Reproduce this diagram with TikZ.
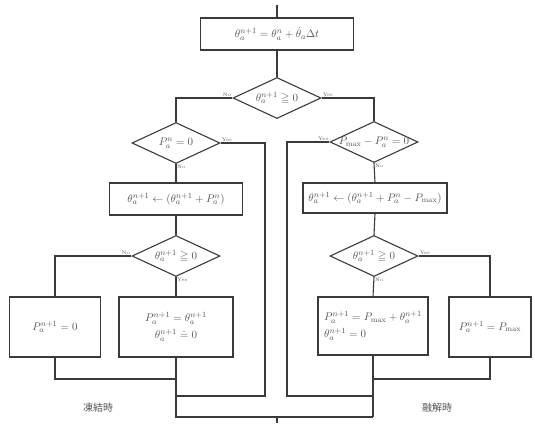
\documentclass[tikz,border=0pt]{standalone}
\usepackage{fontspec}
\usepackage{amsmath}
\usepackage{amssymb}
\usepackage{xcolor}
\usetikzlibrary{arrows.meta, positioning, shapes.geometric, calc}
\newfontfamily\cjk{Noto Sans CJK JP}
\definecolor{fcline}{HTML}{3A3A3A}
\definecolor{fctext}{HTML}{555555}

\begin{document}
\begin{tikzpicture}[
  x=1pt, y=-1pt,
  every node/.style={font=\fontsize{11}{13}\selectfont, text=fctext},
  flowline/.style={draw=fcline, line width=1.1pt},
  procbox/.style={rectangle, draw=fcline, line width=1.1pt, minimum width=#1, align=center, inner sep=2pt},
  decision/.style={diamond, draw=fcline, line width=1.1pt, minimum width=88pt, minimum height=41pt, inner sep=0pt},
  branchlabel/.style={font=\tiny, text=fctext, inner sep=1pt},
]
\useasboundingbox (0,0) rectangle (535,423);

% Top: update step
\coordinate (start) at (277,5);
\node[procbox=153pt, minimum height=32pt] (upd) at (277,34) {$\theta_a^{n+1}=\theta_a^n+\dot{\theta}_a\Delta t$};
\node[decision, label=center:{$\theta_a^{n+1}\geqq 0$}] (d1) at (277,98) {};

% Left side: freezing
\node[decision, label=center:{$P_a^n=0$}] (d2) at (176,143) {};
\node[procbox=133pt, minimum height=32pt] (b2) at (176,199) {$\theta_a^{n+1}\leftarrow(\theta_a^{n+1}+P_a^n)$};
\node[decision, label=center:{$\theta_a^{n+1}\geqq 0$}] (d4) at (176,256) {};
\node[procbox=91pt, minimum height=60pt] (b4a) at (55,327) {$P_a^{n+1}=0$};
\node[procbox=114pt, minimum height=60pt] (b4b) at (176,327) {$P_a^{n+1}=\theta_a^{n+1}$\\[4pt]$\theta_a^{n+1}\doteq 0$};

% Right side: thawing
\node[decision, label=center:{$P_{\mathrm{max}}-P_a^n=0$}] (d3) at (374,142) {};
\node[procbox=144pt, minimum height=30pt] (b3) at (375,198) {$\theta_a^{n+1}\leftarrow(\theta_a^{n+1}+P_a^n-P_{\mathrm{max}})$};
\node[decision, label=center:{$\theta_a^{n+1}\geqq 0$}] (d5) at (374,256) {};
\node[procbox=110pt, minimum height=58pt, align=left] (b5a) at (373,326) {$P_a^{n+1}=P_{\mathrm{max}}+\theta_a^{n+1}$\\[4pt]$\theta_a^{n+1}=0$};
\node[procbox=82pt, minimum height=60pt] (b5b) at (490,327) {$P_a^{n+1}=P_{\mathrm{max}}$};

% Junction points
\coordinate (jl) at (265,396);
\coordinate (ml) at (176,396);
\coordinate (fl) at (176,379);
\coordinate (jr) at (287,396);
\coordinate (mr) at (373,396);
\coordinate (fr) at (373,379);
\coordinate (bl) at (176,417);
\coordinate (br) at (373,417);
\coordinate (bm) at (277,417);
\coordinate (stop) at (277,423);

% Connectors
\draw[flowline] (start) -- (upd.north);
\draw[flowline] (upd.south) -- (d1.north);
\draw[flowline] (d1.west) -| (d2.north);
\draw[flowline] (d1.east) -| (d3.north);
\draw[flowline] (d2.east) -| (jl) -- (ml);
\draw[flowline] (d2.south) -- (b2.north);
\draw[flowline] (b2.south) -- (d4.north);
\draw[flowline] (d4.west) -| (b4a.north);
\draw[flowline] (d4.south) -- (b4b.north);
\draw[flowline] (b4a.south) |- (fl);
\draw[flowline] (b4b.south) -- (bl) -- (br);
\draw[flowline] (d3.west) -| (jr) -- (mr);
\draw[flowline] (d3.south) -- (b3.north);
\draw[flowline] (b3.south) -- (d5.north);
\draw[flowline] (d5.east) -| (b5b.north);
\draw[flowline] (d5.south) -- (b5a.north);
\draw[flowline] (b5b.south) |- (fr);
\draw[flowline] (b5a.south) -- (br);
\draw[flowline] (bm) -- (stop);

% Branch labels
\node[branchlabel, above left] at (d1.west) {No};
\node[branchlabel, above right] at (d1.east) {Yes};
\node[branchlabel, above right] at (d2.east) {Yes};
\node[branchlabel, below right] at (d2.south) {No};
\node[branchlabel, above left] at (d3.west) {Yes};
\node[branchlabel, below right] at (d3.south) {No};
\node[branchlabel, above left] at (d4.west) {No};
\node[branchlabel, below right] at (d4.south) {Yes};
\node[branchlabel, above right] at (d5.east) {Yes};
\node[branchlabel, below right] at (d5.south) {No};

% Phase captions
\node[font=\cjk\normalsize] (frz) at (98,408) {凍結時};
\node[font=\cjk\normalsize] (thw) at (437,408) {融解時};

\end{tikzpicture}
\end{document}
